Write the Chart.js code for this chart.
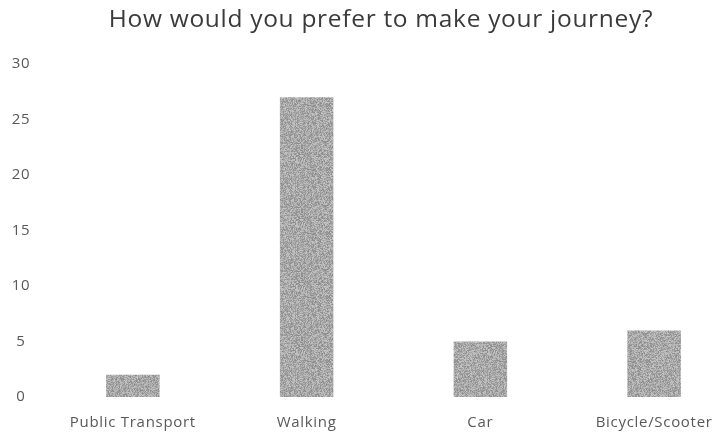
<!DOCTYPE html>
<html>
<head>
<meta charset="utf-8">
<script src="https://cdn.jsdelivr.net/npm/chart.js@4.4.0/dist/chart.umd.min.js"></script>
<style>
  html, body { margin: 0; padding: 0; background: #ffffff; overflow: hidden; }
  #wrap { position: relative; width: 770px; height: 434px; }
</style>
</head>
<body>
<div id="wrap"><canvas id="c" width="770" height="434"></canvas></div>
<script>
const chartTitle = "How would you prefer to make your journey?";
const categories = ["Public Transport", "Walking", "Car", "Bicycle/Scooter"];
const responses = [2, 27, 5, 6];
const yTicks = [0, 5, 10, 15, 20, 25, 30];

// grainy grey fill (deterministic texture, style only)
function makeTexture() {
  const t = document.createElement('canvas');
  t.width = 64; t.height = 64;
  const g = t.getContext('2d');
  const img = g.createImageData(64, 64);
  let s = 12345;
  for (let i = 0; i < 64 * 64; i++) {
    s = (s * 1103515245 + 12345) & 0x7fffffff;
    const v = 138 + ((s >> 8) % 62);
    img.data[i * 4] = v; img.data[i * 4 + 1] = v; img.data[i * 4 + 2] = v; img.data[i * 4 + 3] = 255;
  }
  g.putImageData(img, 0, 0);
  return g.createPattern(t, 'repeat');
}
const ctx = document.getElementById('c').getContext('2d');
const barFill = makeTexture();

const spacingPlugin = {
  id: 'spacing',
  beforeDraw(chart) { chart.ctx.letterSpacing = '0.7px'; }
};

new Chart(ctx, {
  type: 'bar',
  data: {
    labels: categories,
    datasets: [{
      data: responses,
      backgroundColor: barFill,
      borderWidth: 0,
      categoryPercentage: 1.0,
      barPercentage: 0.308
    }]
  },
  plugins: [spacingPlugin],
  options: {
    responsive: false,
    animation: false,
    layout: { padding: { left: 0, right: 8, top: 0, bottom: 0 } },
    plugins: {
      legend: { display: false },
      tooltip: { enabled: false },
      title: {
        display: true,
        text: chartTitle,
        color: '#3a3a3a',
        font: { family: 'Open Sans', size: 24.5, weight: 'normal', lineHeight: 1.2 },
        padding: { top: 5.5, bottom: 29 }
      }
    },
    scales: {
      x: {
        grid: { display: false, drawTicks: false },
        border: { display: false },
        ticks: {
          color: '#595959',
          font: { family: 'Open Sans', size: 15 },
          padding: 17,
          maxRotation: 0,
          autoSkip: false
        },
        afterFit: (s) => { s.height = 37; }
      },
      y: {
        min: 0,
        max: 30,
        grid: { display: false, drawTicks: false },
        border: { display: false },
        afterBuildTicks: (s) => { s.ticks = yTicks.map(v => ({ value: v })); },
        ticks: {
          color: '#595959',
          font: { family: 'Open Sans', size: 15 },
          padding: 16.5,
          crossAlign: 'center'
        },
        afterFit: (s) => { s.width = 46; }
      },
      yr: {
        position: 'right',
        display: true,
        grid: { display: false, drawTicks: false },
        border: { display: false },
        ticks: { display: false },
        afterFit: (s) => { s.width = 21; }
      }
    }
  }
});
</script>
</body>
</html>
